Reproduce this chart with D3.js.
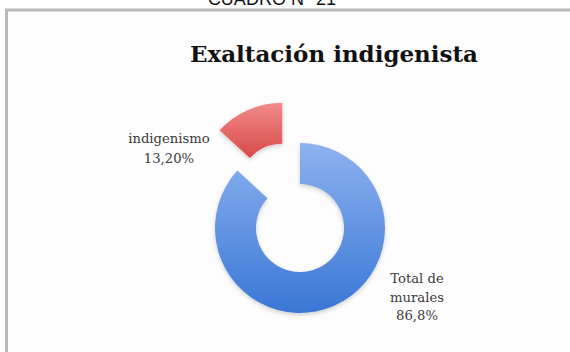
<!DOCTYPE html>
<html>
<head>
<meta charset="utf-8">
<script src="https://cdn.jsdelivr.net/npm/d3@7"></script>
<style>
  html, body { margin: 0; padding: 0; background: #ffffff; }
  svg { display: block; }
</style>
</head>
<body>
<svg id="chart" width="570" height="352"></svg>
<script>
// Series: share of murals (percent)
const categories = ["Total de murales", "indigenismo"];
const values = [86.8, 13.2];
const valueLabels = ["86,8%", "13,20%"];
const labelLines = [["Total de", "murales", "86,8%"], ["indigenismo", "13,20%"]];
const caption = "CUADRO N° 21";
const chartTitle = "Exaltación indigenista";

const svg = d3.select("#chart");
const W = 570, H = 352;

const defs = svg.append("defs");
function vGrad(id, top, bottom) {
  const g = defs.append("linearGradient").attr("id", id)
    .attr("x1", 0).attr("y1", 0).attr("x2", 0).attr("y2", 1);
  g.append("stop").attr("offset", "0%").attr("stop-color", top);
  g.append("stop").attr("offset", "100%").attr("stop-color", bottom);
}
vGrad("gBlue", "#8db2ef", "#3a77d6");
vGrad("gRed", "#f28a8a", "#d84a4a");
const sh = defs.append("filter").attr("id", "soft")
  .attr("x", "-20%").attr("y", "-20%").attr("width", "140%").attr("height", "140%");
sh.append("feDropShadow").attr("dx", 0).attr("dy", 2).attr("stdDeviation", 2)
  .attr("flood-color", "#000").attr("flood-opacity", 0.18);

// caption above the frame, partly clipped by the top edge
svg.append("text")
  .attr("x", 272).attr("y", 5)
  .attr("text-anchor", "middle")
  .attr("font-family", "'Liberation Sans', Arial, sans-serif")
  .attr("font-size", 18)
  .attr("fill", "#111")
  .text(caption);

// chart frame
svg.append("rect")
  .attr("x", 6.5).attr("y", 10)
  .attr("width", W + 20).attr("height", H + 20)
  .attr("fill", "#fdfdfd")
  .attr("stroke", "#b9b9b9").attr("stroke-width", 3);

// title
svg.append("text")
  .attr("x", 334).attr("y", 62)
  .attr("text-anchor", "middle")
  .attr("font-family", "'DejaVu Serif', serif")
  .attr("font-weight", "bold")
  .attr("font-size", 22.5)
  .attr("textLength", 288).attr("lengthAdjust", "spacingAndGlyphs")
  .attr("fill", "#111")
  .text(chartTitle);

// doughnut
const cx = 300, cy = 228, rOuter = 85, rInner = 44;
const explode = [0, 44];
const fills = ["url(#gBlue)", "url(#gRed)"];

const pie = d3.pie().sort(null).value(d => d)(values);
const arc = d3.arc().innerRadius(rInner).outerRadius(rOuter);

const g = svg.append("g").attr("transform", `translate(${cx},${cy})`);
pie.forEach((p, i) => {
  const mid = (p.startAngle + p.endAngle) / 2;
  const dx = Math.sin(mid) * explode[i];
  const dy = -Math.cos(mid) * explode[i];
  const slice = g.append("g").attr("transform", `translate(${dx},${dy})`);
  // gradient runs across the slice's own bounding box; use user space of the full ring
  slice.append("path")
    .attr("d", arc(p))
    .attr("fill", fills[i])
    .attr("filter", "url(#soft)");
});

// data labels
const labelPos = [[417, 283, 18.5], [169, 143, 20]];
labelLines.forEach((lines, i) => {
  const [lx, ly, lh] = labelPos[i];
  const t = svg.append("text")
    .attr("text-anchor", "middle")
    .attr("font-family", "'DejaVu Serif', serif")
    .attr("font-size", 13.2)
    .attr("fill", "#3a3a3a");
  lines.forEach((s, k) => {
    t.append("tspan").attr("x", lx).attr("y", ly + k * lh).text(s);
  });
});
</script>
</body>
</html>
